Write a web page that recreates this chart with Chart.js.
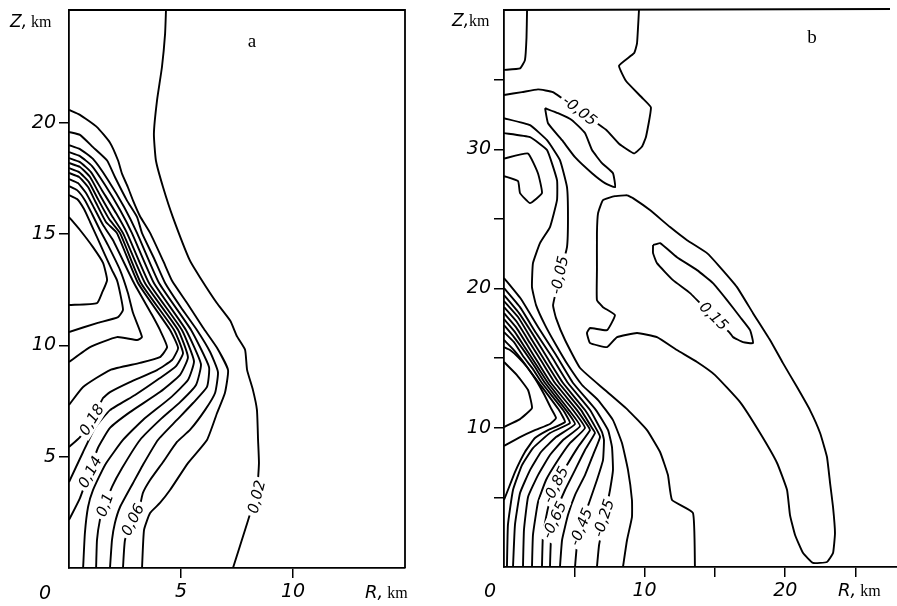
<!DOCTYPE html>
<html><head><meta charset="utf-8">
<script src="https://cdn.jsdelivr.net/npm/chart.js@4.4.1/dist/chart.umd.min.js"></script>
<style>
html,body{margin:0;padding:0;background:#fff;}
#wrap{position:relative;width:897px;height:606px;overflow:hidden;background:#fff;}
canvas{position:absolute;top:-30px;}
#ca{left:0;} #cb{left:430px;}
</style></head><body>
<div id="wrap"><canvas id="ca" width="420" height="636"></canvas><canvas id="cb" width="467" height="636"></canvas></div>
<script>
// ---------- Panel a data (R km, Z km) ----------
const aXTicks = [5, 10];
const aYTicks = [5, 10, 15, 20];
const aC02 = [[4.33,25.06],[4.29,24],[4.15,22.5],[3.93,21],[3.79,19.5],[3.88,18.3],[4.2,17.1],[4.64,15.75],[5.4,13.8],[5.85,13.05],[6.6,11.9],[7.2,11.1],[7.5,10.4],[7.86,9.8],[7.95,8.9],[8.21,8],[8.39,7.1],[8.44,5.75],[8.48,4.7],[8.39,3.5],[7.95,2],[7.32,0]];
const aC04 = [[0,20.57],[0.49,20.35],[1.25,19.8],[1.83,19.1],[2.19,18.3],[2.37,17.7],[2.63,17.1],[2.86,16.5],[3.17,15.8],[3.62,15.05],[4.2,13.8],[4.6,12.9],[5.27,11.9],[5.98,10.8],[6.6,9.9],[7.1,8.89],[6.96,7.86],[6.61,6.96],[6.16,5.75],[5.31,4.71],[4.51,3.5],[4.06,2.92],[3.62,2.47],[3.35,1.71],[3.26,0]];
const aC06 = [[0,19.58],[0.49,19.45],[1.07,18.9],[1.7,18.3],[2.05,17.56],[2.59,16.5],[3.04,15.76],[3.26,15.04],[3.8,13.9],[4.29,12.8],[5.0,11.7],[5.71,10.69],[6.3,9.7],[6.65,8.8],[6.52,7.86],[6.07,7.09],[5.4,6.2],[4.82,5.66],[4.2,4.76],[3.62,3.95],[3.3,3.37],[3.17,2.83],[2.86,2.16],[2.5,1.26],[2.41,0]];
const aC08 = [[0,18.99],[0.49,18.81],[1.07,18.37],[1.74,17.43],[2.46,16.21],[3.04,15.04],[4.02,12.8],[5.45,10.69],[6.25,9.03],[6.16,8.13],[5.54,7.41],[4.82,6.65],[3.97,5.75],[3.3,4.63],[2.86,3.82],[2.28,2.74],[2.05,2.02],[1.92,1.26],[1.83,0]];
const aC10 = [[0,18.68],[0.49,18.5],[1.03,18.05],[1.61,17.2],[2.28,16.08],[2.81,15.04],[3.79,12.8],[5.22,10.69],[5.89,9.16],[5.67,8.22],[4.96,7.45],[4.06,6.65],[3.17,5.75],[2.37,4.49],[1.92,3.64],[1.52,2.6],[1.38,2.16],[1.25,1.26],[1.21,0]];
const aC12 = [[0,18.41],[0.49,18.23],[0.98,17.78],[1.47,16.97],[2.1,15.94],[2.59,15.04],[3.57,12.8],[5.04,10.69],[5.58,9.29],[5.31,8.44],[4.51,7.63],[3.3,6.65],[2.41,5.75],[1.61,4.63],[1.07,3.5],[0.85,2.74],[0.71,1.57],[0.63,0]];
const aC14 = [[0,18.19],[0.49,18.01],[0.94,17.56],[1.38,16.75],[1.92,15.81],[2.41,15.04],[3.39,12.8],[4.87,10.69],[5.31,9.47],[4.96,8.67],[4.06,7.9],[2.72,7.0],[1.83,6.29],[1.29,5.39],[0.94,4.4],[0.49,3.14],[0,2.16]];
const aC16 = [[0,17.96],[0.45,17.78],[0.89,17.33],[1.29,16.57],[1.79,15.67],[2.28,15.04],[3.21,12.8],[4.69,10.69],[5.09,9.65],[4.78,9.07],[4.06,8.53],[2.95,7.77],[1.83,7.09],[1.16,6.29],[0.63,5.21],[0,3.86]];
const aC18 = [[0,17.74],[0.45,17.56],[0.85,17.11],[1.21,16.39],[1.65,15.54],[2.14,15.04],[3.08,12.8],[4.51,10.69],[4.87,9.88],[4.6,9.34],[3.93,8.89],[2.72,8.35],[1.83,7.9],[1.52,7.63],[1.03,6.65],[0.49,5.88],[0,5.43]];
const aC20 = [[0,17.47],[0.4,17.29],[0.76,16.84],[1.12,16.17],[1.52,15.4],[1.96,14.73],[2.9,12.8],[3.71,11.36],[4.06,10.69],[4.38,9.92],[4.06,9.47],[3.17,9.21],[1.83,8.89],[0.63,8.13],[0,7.32]];
const aC22 = [[0,17.15],[0.36,16.97],[0.71,16.52],[1.03,15.9],[1.38,15.18],[1.74,14.5],[2.28,13.38],[2.63,12.35],[2.86,11.45],[3.26,10.37],[3.04,10.24],[2.14,10.37],[0.94,9.92],[0,9.25]];
const aC24 = [[0,16.75],[0.36,16.57],[0.67,16.12],[0.94,15.54],[1.25,14.86],[1.61,14.05],[1.92,13.38],[2.14,12.93],[2.28,12.35],[2.41,11.59],[2.19,11.27],[1.25,11.0],[0,10.6]];
const aC26 = [[0,15.76],[0.49,15.18],[1.07,14.41],[1.52,13.7],[1.7,12.93],[1.47,12.35],[1.25,11.9],[0,11.81]];
const aLabelText = ['0,18','0,14','0,1','0,06','0,02'];
const aLabelAt = [[1.03,6.65],[0.96,4.3],[1.62,2.83],[2.86,2.16],[8.39,3.19]];

// ---------- Panel b data (R km, Z km) ----------
const bXTicks = [5, 10, 15, 20, 25];
const bXLabeled = [10, 20];
const bYTicks = [5, 10, 15, 20, 25, 30, 35];
const bYLabeled = [10, 20, 30];
const bTop = [[1.64,40],[1.6,38],[1.49,36.4],[1.14,35.8],[0,35.7]];
const bUpper05 = [[9.6,40],[9.46,37.6],[9.25,36.9],[8.18,36.0],[8.68,34.9],[9.82,33.7],[10.45,33.0],[10.1,30.9],[9.82,30.2],[9.25,29.7],[8.18,30.4],[7.26,31.4],[5.37,32.75],[3.48,34.1],[2.42,34.3],[1.28,34.1],[0,33.9]];
const bThin = [[2.92,32.95],[3.13,31.87],[4.13,30.65],[5.05,29.43],[6.26,28.28],[7.18,27.57],[7.9,27.28],[7.75,28.28],[6.97,29.0],[6.26,29.94],[5.76,31.16],[4.84,32.09],[3.84,32.59],[2.92,32.95]];
const bSmall = [[0,29.33],[1.71,29.69],[2.42,28.26],[2.7,26.85],[1.85,26.13],[1.14,26.85],[1.0,27.71],[0,28.07]];
const bM05 = [[0,32.23],[1.85,31.73],[3.06,30.65],[3.98,29.22],[4.48,27.28],[4.55,25.13],[4.48,22.97],[3.98,20.96],[3.49,18.81],[3.7,17.87],[4.34,16.3],[5.41,14.29],[7.18,12.71],[8.82,11.27],[10.17,9.83],[11.1,8.26],[11.66,6.6],[11.95,4.81],[13.44,3.88],[13.58,0]];
const bM15 = [[0,31.16],[1.85,30.87],[3.06,29.94],[3.77,27.78],[3.77,26.35],[3.27,24.41],[2.56,23.26],[2.06,21.82],[1.99,20.1],[2.28,18.81],[2.92,17.37],[3.7,15.94],[4.55,14.5],[5.55,13.07],[6.69,11.99],[7.75,10.55],[8.39,8.9],[8.82,6.96],[9.1,4.81],[9.1,3.59],[8.75,1.94],[8.46,0]];
const bM25 = [[0,20.75],[1.21,19.24],[2.42,17.23],[3.7,15.22],[4.91,13.21],[6.54,11.27],[7.4,9.83],[7.68,8.61],[7.75,6.96],[7.54,5.53],[7.33,4.45],[7.04,3.02],[6.76,1.58],[6.61,0]];
const bM35 = [[0,20.03],[1.14,18.66],[2.28,16.8],[3.41,15.08],[4.55,13.21],[6.12,11.27],[6.97,9.69],[7.11,9.12],[7.04,7.68],[6.61,6.25],[6.12,4.81],[5.62,3.37],[5.19,1.58],[5.05,0]];
const bM45 = [[0,19.53],[1.07,18.23],[2.13,16.58],[3.13,14.93],[4.2,13.21],[5.76,11.27],[6.61,9.83],[6.83,9.33],[6.33,8.04],[5.76,6.6],[5.05,5.17],[4.55,3.73],[4.13,1.94],[3.98,0]];
const bM55 = [[0,19.1],[1.0,17.95],[1.99,16.3],[2.92,14.79],[3.91,13.21],[5.48,11.27],[6.26,9.98],[6.47,9.62],[5.76,8.4],[5.05,6.96],[4.34,5.53],[3.7,3.95],[3.34,1.94],[3.27,0]];
const bM65 = [[0,18.66],[0.92,17.59],[1.85,16.08],[2.7,14.72],[3.63,13.21],[5.19,11.27],[5.97,10.12],[6.12,9.83],[5.26,8.61],[4.48,7.32],[3.7,5.89],[3.13,4.24],[2.77,2.3],[2.7,0]];
const bM75 = [[0,18.23],[0.85,17.23],[1.71,15.86],[2.49,14.57],[3.34,13.21],[4.91,11.27],[5.76,9.98],[4.69,8.9],[3.84,7.68],[2.99,6.25],[2.42,4.67],[2.06,2.3],[1.99,0]];
const bM85 = [[0,17.8],[0.78,16.87],[1.56,15.65],[2.35,14.43],[3.13,13.21],[4.62,11.27],[5.41,10.12],[4.2,9.12],[3.27,8.04],[2.42,6.6],[1.71,5.03],[1.42,2.66],[1.35,0]];
const bM95 = [[0,17.37],[0.71,16.51],[1.49,15.43],[2.2,14.36],[2.92,13.21],[4.41,11.27],[5.05,10.27],[3.7,9.33],[2.63,8.26],[1.85,6.96],[1.14,5.31],[0.78,3.02],[0.64,0]];
const bM105 = [[0,16.87],[0.71,16.15],[1.35,15.15],[2.06,14.21],[2.7,13.21],[4.2,11.27],[4.69,10.34],[3.27,9.62],[2.06,8.54],[1.28,7.32],[0.64,5.53],[0.28,3.02],[0.21,0]];
const bM115 = [[0,16.3],[0.64,15.65],[1.28,14.86],[1.85,14.07],[2.49,13.21],[3.91,11.27],[4.34,10.41],[3.13,9.83],[2.2,9.26],[1.49,8.26],[0.78,6.82],[0.28,5.53],[0,4.81]];
const bM125 = [[0,15.79],[0.43,15.58],[1.0,15.08],[1.64,14.36],[2.28,13.42],[2.84,12.42],[3.34,11.41],[3.7,10.7],[3.27,10.27],[2.2,9.83],[1.14,9.33],[0,8.69]];
const bCore = [[0,14.72],[0.92,13.78],[1.71,12.71],[1.99,11.41],[1.14,10.62],[0,10.05]];
const bBig = [[8.75,26.7],[9.17,26.49],[10.38,25.63],[11.81,24.41],[13.02,23.47],[14.44,22.54],[15.36,21.54],[16.57,20.1],[17.71,18.23],[18.92,16.3],[19.84,14.64],[20.84,12.92],[21.76,11.27],[22.48,9.62],[22.97,7.9],[23.19,6.03],[23.4,4.31],[23.54,2.44],[23.4,1.0],[22.97,0.36],[21.98,0.29],[21.27,1.0],[20.7,2.3],[20.34,3.73],[20.13,5.53],[19.42,7.47],[18.21,9.62],[16.79,11.84],[15.01,13.78],[13.73,14.72],[12.3,15.58],[10.88,16.51],[9.46,16.8],[8.04,16.51],[7.33,15.79],[6.12,16.08],[5.9,16.8],[6.12,17.16],[7.33,17.01],[7.89,18.09],[7.04,18.66],[6.61,19.17],[6.61,21.32],[6.61,23.98],[6.69,25.41],[7.04,26.35],[7.89,26.63],[8.75,26.7]];
const bP15 = [[10.6,23.12],[11.1,23.26],[12.3,22.25],[13.73,21.32],[14.86,20.39],[15.86,19.17],[16.79,17.95],[17.5,17.01],[17.71,16.08],[17.0,16.15],[16.29,16.51],[16.07,16.8],[14.65,18.23],[13.23,19.67],[12.02,20.6],[10.88,21.82],[10.6,22.54],[10.6,23.12]];
const bLabelText = ['-0,05','-0,05','0,15','-0,85','-0,65','-0,45','-0,25'];
const bLabelAt = [[5.37,32.75],[3.98,20.96],[14.9,18.0],[3.7,5.89],[3.6,3.37],[5.5,2.87],[7.11,3.5]];

// ---------- styling ----------
const aLabelAngle = [-58,-62,-70,-64,-76];
const bLabelAngle = [38,-78,45,-63,-65,-68,-72];
const TICK_FONT = {family:'DejaVu Sans', size:19, style:'italic'};
const LABEL_FONT = 'italic 15px "DejaVu Sans"';

function ds(lines, tension) {
  return lines.map(l => ({
    data: l.map(p => ({x: p[0], y: p[1]})),
    showLine: true, borderColor: '#000', borderWidth: 1.9,
    pointRadius: 0, pointHoverRadius: 0, tension: tension, fill: false
  }));
}

function drawContourLabels(chart, texts, at, angles) {
  const ctx = chart.ctx, xs = chart.scales.x, ys = chart.scales.y, ca = chart.chartArea;
  ctx.save();
  ctx.beginPath(); ctx.rect(ca.left + 1.5, ca.top + 1.5, ca.width - 3, ca.height - 3); ctx.clip();
  ctx.font = LABEL_FONT;
  texts.forEach((t, i) => {
    const px = xs.getPixelForValue(at[i][0]), py = ys.getPixelForValue(at[i][1]);
    ctx.save(); ctx.translate(px, py); ctx.rotate(angles[i] * Math.PI / 180);
    const w = ctx.measureText(t).width;
    ctx.fillStyle = '#fff'; ctx.fillRect(-w / 2 - 3, -8, w + 6, 16);
    ctx.fillStyle = '#000'; ctx.textAlign = 'center'; ctx.textBaseline = 'middle';
    ctx.fillText(t, 0, 0.5);
    ctx.restore();
  });
  ctx.restore();
}

function mixedText(ctx, x, y, parts) {
  ctx.textAlign = 'left'; ctx.textBaseline = 'alphabetic'; ctx.fillStyle = '#000';
  let cx = x;
  parts.forEach(([t, f]) => { ctx.font = f; ctx.fillText(t, cx, y); cx += ctx.measureText(t).width; });
}

function scales(xmin, xmax, ymin, ymax, xt, xl, yt, yl, xh) {
  const axisCommon = (ticksArr, labeled) => ({
    type: 'linear',
    afterBuildTicks: s => { s.ticks = ticksArr.map(v => ({value: v})); },
    grid: {display: true, drawOnChartArea: false, drawTicks: true, tickLength: 10, color: '#000', lineWidth: 1.5},
    border: {display: true, color: '#000', width: 1.8},
    ticks: {color: '#000', font: TICK_FONT, autoSkip: false, maxRotation: 0, padding: 3,
      callback: v => labeled.includes(v) ? String(v) : ''}
  });
  const x = Object.assign(axisCommon(xt, xl), {min: xmin, max: xmax, afterFit: s => { s.height = xh; }});
  const y = Object.assign(axisCommon(yt, yl), {min: ymin, max: ymax, afterFit: s => { s.width = 60; }});
  return {x, y};
}

const decorA = {
  id: 'decorA',
  afterDatasetsDraw(chart) {
    const ctx = chart.ctx, ca = chart.chartArea;
    ctx.save();
    ctx.strokeStyle = '#000'; ctx.lineWidth = 1.8;
    ctx.beginPath(); ctx.moveTo(ca.left, ca.top); ctx.lineTo(ca.right, ca.top); ctx.lineTo(ca.right, ca.bottom); ctx.stroke();
    ctx.restore();
    drawContourLabels(chart, aLabelText, aLabelAt, aLabelAngle);
    ctx.save();
    mixedText(ctx, ca.left - 59, ca.top + 17, [['Z,', 'italic 17px "DejaVu Sans"'], [' km', '16px "Liberation Serif"']]);
    mixedText(ctx, ca.right - 40, ca.bottom + 30, [['R,', 'italic 18px "DejaVu Sans"'], [' km', '16px "Liberation Serif"']]);
    ctx.font = 'italic 19px "DejaVu Sans"'; ctx.textAlign = 'center'; ctx.fillText('0', ca.left - 24, ca.bottom + 31);
    ctx.font = '19px "Liberation Serif"'; ctx.fillText('a', ca.left + 183, ca.top + 37);
    ctx.restore();
  }
};
const decorB = {
  id: 'decorB',
  afterDatasetsDraw(chart) {
    const ctx = chart.ctx, ca = chart.chartArea;
    ctx.save();
    ctx.strokeStyle = '#000'; ctx.lineWidth = 1.8;
    ctx.beginPath(); ctx.moveTo(ca.left, ca.top); ctx.lineTo(ca.right - 7, ca.top - 1); ctx.stroke();
    ctx.restore();
    drawContourLabels(chart, bLabelText, bLabelAt, bLabelAngle);
    ctx.save();
    mixedText(ctx, ca.left - 52, ca.top + 16, [['Z,', 'italic 17px "DejaVu Sans"'], ['km', '16px "Liberation Serif"']]);
    mixedText(ctx, ca.left + 334, ca.bottom + 29, [['R,', 'italic 18px "DejaVu Sans"'], [' km', '16px "Liberation Serif"']]);
    ctx.font = 'italic 19px "DejaVu Sans"'; ctx.textAlign = 'center'; ctx.fillText('0', ca.left - 14, ca.bottom + 30);
    ctx.font = '19px "Liberation Serif"'; ctx.fillText('b', ca.left + 308, ca.top + 33);
    ctx.restore();
  }
};

Chart.defaults.color = '#000';
Chart.defaults.font.family = 'DejaVu Sans';

new Chart(document.getElementById('ca'), {
  type: 'scatter',
  data: {datasets: ds([aC02, aC04, aC06, aC08, aC10, aC12, aC14, aC16, aC18, aC20, aC22, aC24, aC26], 0.15)},
  options: {
    responsive: false, animation: false, devicePixelRatio: 1,
    layout: {padding: {left: 9, top: 40, right: 15, bottom: 0}},
    plugins: {legend: {display: false}, tooltip: {enabled: false}},
    scales: scales(0, 15, 0, 25.06, aXTicks, aXTicks, aYTicks, aYTicks, 38)
  },
  plugins: [decorA]
});

new Chart(document.getElementById('cb'), {
  type: 'scatter',
  data: {datasets: ds([bTop, bUpper05, bThin, bSmall, bM05, bM15, bM25, bM35, bM45, bM55, bM65, bM75, bM85, bM95, bM105, bM115, bM125, bCore, bBig, bP15], 0.12)},
  options: {
    responsive: false, animation: false, devicePixelRatio: 1,
    layout: {padding: {left: 14, top: 40, right: 0, bottom: 0}},
    plugins: {legend: {display: false}, tooltip: {enabled: false}},
    scales: scales(0, 27.95, 0, 40, bXTicks, bXLabeled, bYTicks, bYLabeled, 39)
  },
  plugins: [decorB]
});
</script>
</body></html>
